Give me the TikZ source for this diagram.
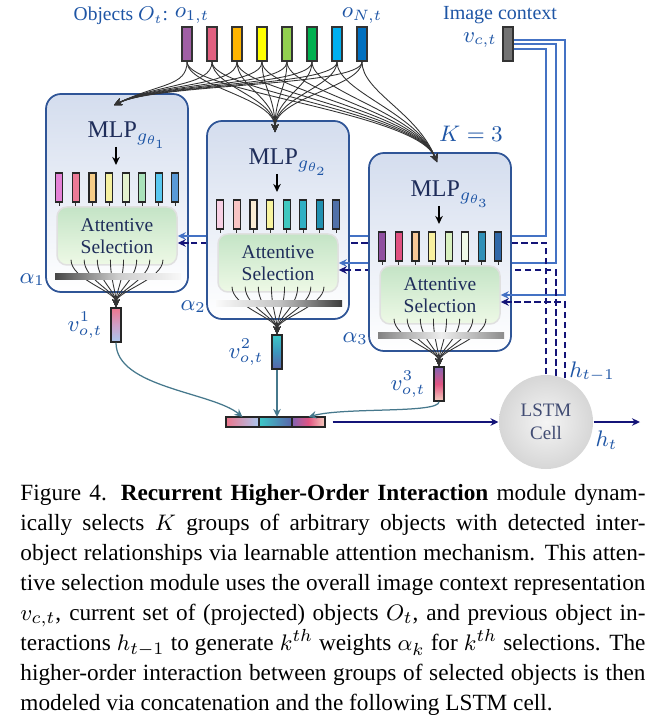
\documentclass[tikz,border=0pt]{standalone}
\usepackage{fontspec}
\setmainfont{Liberation Serif}
\usetikzlibrary{arrows.meta,calc,positioning}

\pgfdeclarelayer{back}
\pgfsetlayers{back,main}

\definecolor{lblue}{RGB}{30,85,165}
\definecolor{navytext}{RGB}{31,45,90}
\definecolor{panelline}{RGB}{47,85,151}
\definecolor{paneltop}{RGB}{212,221,238}
\definecolor{ctxblue}{RGB}{68,114,196}
\definecolor{hnavy}{RGB}{20,20,120}
\definecolor{catline}{RGB}{70,120,140}
\definecolor{asgreen}{RGB}{196,228,198}
\definecolor{asbottom}{RGB}{238,249,230}
% object colours
\definecolor{oc1}{RGB}{160,95,165}
\definecolor{oc2}{RGB}{224,96,128}
\definecolor{oc3}{RGB}{255,180,0}
\definecolor{oc4}{RGB}{255,255,0}
\definecolor{oc5}{RGB}{146,208,80}
\definecolor{oc6}{RGB}{0,176,80}
\definecolor{oc7}{RGB}{0,176,240}
\definecolor{oc8}{RGB}{0,112,192}
% projected objects, one set per MLP
\definecolor{a1}{RGB}{228,128,214}
\definecolor{a2}{RGB}{236,122,150}
\definecolor{a3}{RGB}{246,204,136}
\definecolor{a4}{RGB}{245,240,160}
\definecolor{a5}{RGB}{228,242,206}
\definecolor{a6}{RGB}{170,226,186}
\definecolor{a7}{RGB}{90,200,240}
\definecolor{a8}{RGB}{90,154,216}
\definecolor{b1}{RGB}{248,208,228}
\definecolor{b2}{RGB}{248,196,196}
\definecolor{b3}{RGB}{250,236,212}
\definecolor{b4}{RGB}{248,244,160}
\definecolor{b5}{RGB}{64,200,192}
\definecolor{b6}{RGB}{48,176,196}
\definecolor{b7}{RGB}{32,144,176}
\definecolor{b8}{RGB}{80,112,168}
\definecolor{c1}{RGB}{144,80,160}
\definecolor{c2}{RGB}{224,80,128}
\definecolor{c3}{RGB}{248,200,150}
\definecolor{c4}{RGB}{248,240,160}
\definecolor{c5}{RGB}{216,240,192}
\definecolor{c6}{RGB}{240,250,232}
\definecolor{c7}{RGB}{48,144,184}
\definecolor{c8}{RGB}{48,104,168}
% attention weights
\definecolor{gl1}{RGB}{70,70,70}
\definecolor{gm1}{RGB}{205,205,205}
\definecolor{gr1}{RGB}{248,248,248}
\definecolor{gl2}{RGB}{250,250,250}
\definecolor{gm2}{RGB}{195,195,195}
\definecolor{gr2}{RGB}{60,60,60}
\definecolor{gl3}{RGB}{130,130,130}
\definecolor{gm3}{RGB}{238,238,238}
\definecolor{gr3}{RGB}{140,140,140}
% selected groups
\definecolor{vt1}{RGB}{236,118,140}
\definecolor{vm1}{RGB}{205,160,200}
\definecolor{vb1}{RGB}{170,200,240}
\definecolor{vt2}{RGB}{60,200,200}
\definecolor{vm2}{RGB}{60,150,190}
\definecolor{vb2}{RGB}{90,100,170}
\definecolor{vt3}{RGB}{130,100,180}
\definecolor{vm3}{RGB}{225,85,130}
\definecolor{vb3}{RGB}{245,205,190}

\tikzset{
	objbar/.style={draw=black!80, line width=0.6pt, minimum width=4pt, minimum height=13.6pt, inner sep=0pt},
	smallbar/.style={draw=black!85, line width=0.45pt, minimum width=2.8pt, minimum height=11.6pt, inner sep=0pt},
	panel/.style={draw=panelline, line width=0.7pt, rounded corners=6pt, top color=paneltop, bottom color=white, minimum width=56.8pt, minimum height=79.2pt, inner sep=0pt},
	attsel/.style={draw=black!12, line width=0.6pt, rounded corners=4pt, top color=asgreen, bottom color=asbottom, minimum width=48pt, minimum height=23.2pt, align=center, text=navytext, font=\fontsize{7.8}{8.8}\selectfont, inner sep=0pt},
	weightbar/.style={minimum width=50.4pt, minimum height=2.4pt, inner sep=0pt},
	vbar/.style={draw=black!85, line width=0.6pt, minimum width=4pt, minimum height=13.6pt, inner sep=0pt},
	catcell/.style={draw=black!85, line width=0.6pt, minimum width=13.2pt, minimum height=4pt, inner sep=0pt, outer sep=0pt},
	lbl/.style={text=lblue, font=\fontsize{9}{10}\selectfont, inner sep=1pt},
	fan/.style={draw=black!80, line width=0.35pt},
	ctx/.style={draw=ctxblue, line width=0.8pt},
	hid/.style={draw=hnavy, line width=0.8pt, dash pattern=on 2.6pt off 1.4pt},
	arr/.style={-{Stealth[length=3.2pt,width=3pt]}},
}

\begin{document}
\begin{tikzpicture}[x=0.4pt,y=-0.4pt]
	\useasboundingbox (0,0) rectangle (667,717);
	
	% objects and image context
	\node[lbl, anchor=base east, font=\fontsize{7.8}{10}\selectfont] (objtxt) at (171,21) {Objects $O_t$:};
	\foreach \i in {1,...,8}
		\node[objbar, fill=oc\i] (o\i) at ({187+25*(\i-1)},44) {};
	\node[lbl, above=0pt of o1, xshift=2pt] (o1txt) {$o_{1,t}$};
	\node[lbl, above=0pt of o8] (o8txt) {$o_{N,t}$};
	\node[objbar, fill=black!55] (vct) at (508,44) {};
	\node[lbl, anchor=base, font=\fontsize{8}{10}\selectfont] (ctxtxt) at (500,20) {Image context};
	\node[lbl, left=1pt of vct, yshift=1.5pt] (vcttxt) {$v_{c,t}$};
	
	\node[circle, minimum size=37.6pt, inner sep=0pt, shading=radial, inner color=gray!8, outer color=gray!32, align=center, text=navytext!85, font=\fontsize{7.6}{9}\selectfont] (lstm) at (546,422) {LSTM\\Cell};
	
	% the K panels
	\foreach \k/\px/\py/\pfx in {1/46/94/a,2/207/121/b,3/369/153/c}{
		\node[panel] (p\k) at (\px+71,\py+99) {};
		\node[anchor=base west, text=navytext, font=\fontsize{9.6}{11}\selectfont, inner sep=0pt] (mlp\k) at (\px+41,\py+44) {MLP$_{\color{lblue}g_{\theta_{\k}}}$};
		\coordinate (m\k) at (\px+70,\py+53);
		\foreach \i in {1,...,8}
			\node[smallbar, fill=\pfx\i] (s\k\i) at ({\px+13.3+16.57*(\i-1)},\py+93.5) {};
		\draw[arr, line width=0.5pt, shorten >=3pt] (m\k) -- (m\k |- s\k1.north);
		\node[attsel] (as\k) at (\px+71,\py+142) {Attentive\\Selection};
		\foreach \i in {1,...,8}
			\draw[fan] (s\k\i.south) -- (s\k\i.south |- as\k.north);
		\node[vbar, top color=vt\k, bottom color=vb\k, middle color=vm\k] (v\k) at (\px+70,\py+231) {};
		\foreach \i in {1,...,8}
			\draw[fan, arr] ($(as\k.south)+({-46+13.14*(\i-1)},-6)$) .. controls +(0,20) and ($(v\k.north)+(0,-16)$) .. (v\k.north);
		\node[weightbar, left color=gl\k, right color=gr\k, middle color=gm\k] (w\k) at (\px+72,\py+183) {};
		\node[lbl] (al\k) at ($(p\k.south west)+(-13,-13)$) {$\alpha_{\k}$};
		\node[lbl, left=2pt of v\k] (vtxt\k) {$v^{\k}_{o,t}$};
	}
	\node[lbl] (ktxt) at ($(p3.north)+(31,-18)$) {$K = 3$};
	
	% context and previous interaction, behind the panels
	\begin{pgfonlayer}{back}
		\draw[ctx] ($(vct.east)+(0,5)$) -| (lstm.north |- as1.east) -- (as1.east);
		\draw[ctx] (vct.east) -| (lstm.78 |- as2.east) -- (as2.east);
		\draw[ctx] ($(vct.east)+(0,-4)$) -| (lstm.67 |- as3.east) -- (as3.east);
		\draw[hid] (lstm.north) |- ($(as1.east)+(0,7)$);
		\draw[hid] (lstm.78) |- ($(as2.east)+(0,7)$);
		\draw[hid] (lstm.67) |- ($(as3.east)+(0,7)$);
	\end{pgfonlayer}
	\foreach \k in {1,2,3}{
		\draw[ctx, arr] (p\k.east |- as\k.east) -- (as\k.east);
		\draw[hid, arr] ($(p\k.east |- as\k.east)+(0,7)$) -- ($(as\k.east)+(0,7)$);
	}
	
	% objects to every MLP
	\coordinate (t1) at ($(p1.north)+(-3,12)$);
	\coordinate (t2) at ($(p2.north)+(-3,12)$);
	\coordinate (t3) at ($(p3.north)+(-3,10)$);
	\foreach \i in {1,...,8}{
		\draw[fan, arr] (o\i.south) .. controls +(0,25) and ($(t1)+(45,-22)$) .. (t1);
		\draw[fan, arr] (o\i.south) .. controls +(0,25) and ($(t2)+(0,-35)$) .. (t2);
		\draw[fan, arr] (o\i.south) .. controls +(0,30) and ($(t3)+(-20,-50)$) .. (t3);
	}
	
	% concatenation and LSTM
	\node[catcell, left color=vt1, right color=vb1] (cc1) at (242.5,422) {};
	\node[catcell, left color=vt2, right color=vb2, right=0pt of cc1] (cc2) {};
	\node[catcell, left color=vt3, right color=vb3, middle color=vm3, right=0pt of cc2] (cc3) {};
	\draw[catline, line width=0.5pt, arr] (v1.south) .. controls +(0,45) and ($(cc1.north)+(-30,-25)$) .. (cc1.north);
	\draw[catline, line width=0.5pt, arr] (v2.south) -- (v2.south |- cc2.north);
	\draw[catline, line width=0.5pt, arr] (v3.south) .. controls +(0,12) and ($(cc3.north)+(35,-10)$) .. (cc3.north);
	\draw[hnavy, line width=0.8pt, arr] ([xshift=3pt]cc3.east) -- (lstm);
	\coordinate (hout) at (640,422);
	\draw[hnavy, line width=0.8pt, arr] (lstm) -- (hout);
	\node[lbl] (httxt) at ($(lstm.east)+(13,18)$) {$h_t$};
	\node[lbl] (hprevtxt) at ($(lstm.north)+(46,-3)$) {$h_{t-1}$};
	
	% caption
	\node[anchor=north west, inner sep=0pt, text width=250pt, align=justify, font=\fontsize{9.3}{12}\selectfont] (cap) at (20,484) {\hyphenpenalty=10000
		Figure 4.\hspace{0.6em}\textbf{Recurrent Higher-Order Interaction} module dynam-\linebreak
		ically selects $K$ groups of arbitrary objects with detected inter-\linebreak
		object relationships via learnable attention mechanism. This atten-\linebreak
		tive selection module uses the overall image context representation\linebreak
		$v_{c,t}$, current set of (projected) objects $O_t$, and previous object in-\linebreak
		teractions $h_{t-1}$ to generate $k^{th}$ weights $\alpha_k$ for $k^{th}$ selections. The\linebreak
		higher-order interaction between groups of selected objects is then\linebreak
		modeled via concatenation and the following LSTM cell.};
\end{tikzpicture}
\end{document}
